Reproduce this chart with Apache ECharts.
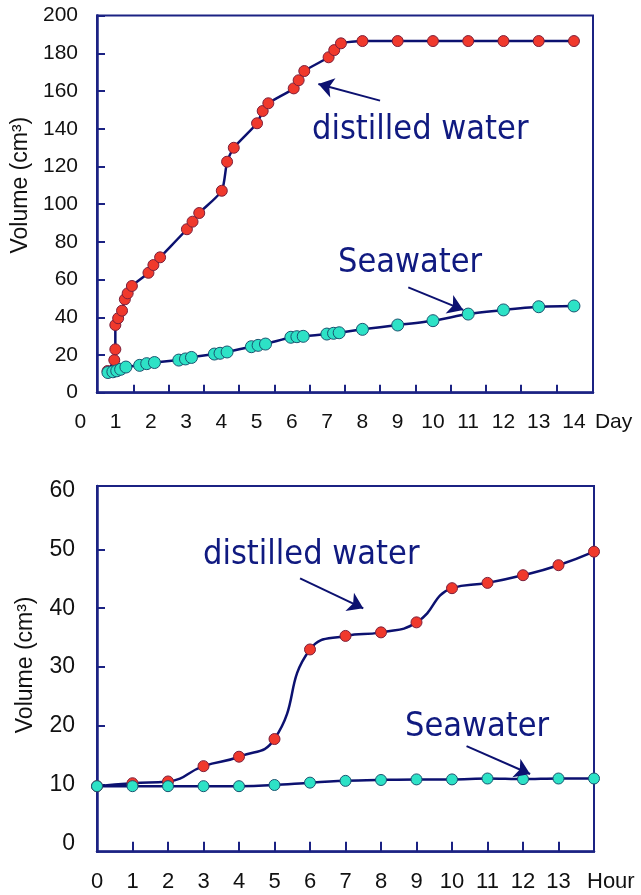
<!DOCTYPE html>
<html>
<head>
<meta charset="utf-8">
<script src="https://cdn.jsdelivr.net/npm/echarts@6.0.0/dist/echarts.min.js"></script>
<style>
html,body{margin:0;padding:0;background:#fff;}
#chart{width:641px;height:895px;}
</style>
</head>
<body>
<div id="chart"></div>
<script>
// ---- Data ----
// Top panel: volume vs day
const topDistilledDay = [0.77, 0.96, 0.99, 0.99, 1.07, 1.18, 1.26, 1.34, 1.46, 1.93, 2.07, 2.26, 3.02, 3.18, 3.37, 4.01, 4.16, 4.35, 5.01, 5.17, 5.33, 6.05, 6.19, 6.35, 7.04, 7.20, 7.39, 8, 9, 10, 11, 12, 13, 14];
const topDistilledVol = [11.5, 17.3, 23.0, 35.9, 39.5, 43.5, 49.5, 52.7, 56.6, 63.6, 67.7, 71.8, 86.7, 90.7, 95.3, 107.1, 122.5, 129.9, 142.9, 149.4, 153.5, 161.4, 165.7, 170.6, 177.9, 181.7, 185.3, 186.5, 186.5, 186.5, 186.5, 186.5, 186.5, 186.5];
const topSeaDay = [0.78, 0.92, 1.03, 1.14, 1.29, 1.68, 1.88, 2.10, 2.79, 2.98, 3.15, 3.80, 3.96, 4.16, 4.85, 5.04, 5.25, 5.97, 6.14, 6.32, 6.99, 7.18, 7.34, 8, 9, 10, 11, 12, 13, 14];
const topSeaVol = [10.7, 11.1, 11.6, 12.4, 13.6, 14.5, 15.4, 16.0, 17.3, 17.9, 18.7, 20.5, 20.9, 21.6, 24.4, 25.1, 25.8, 29.4, 29.7, 29.9, 31.1, 31.5, 31.8, 33.6, 35.9, 38.2, 41.7, 43.9, 45.6, 46.0];

// Bottom panel: volume vs hour
const hours = [0, 1, 2, 3, 4, 5, 6, 7, 8, 9, 10, 11, 12, 13, 14];
const bottomDistilledVol = [9.8, 10.3, 10.6, 13.2, 14.8, 17.8, 33.0, 35.3, 35.9, 37.6, 43.4, 44.3, 45.6, 47.3, 49.6];
const bottomSeaVol = [9.8, 9.8, 9.8, 9.8, 9.8, 10.0, 10.4, 10.7, 10.85, 10.95, 10.95, 11.1, 11.0, 11.1, 11.1];

// Tick labels
const dayLabels = [0, 1, 2, 3, 4, 5, 6, 7, 8, 9, 10, 11, 12, 13, 14];
const dayTicks = [1.5, 2.5, 3.5, 4.5, 5.5, 6.5, 7.5, 8.5, 9.5, 10.5, 11.5, 12.5, 13.5];
const hourLabels = [0, 1, 2, 3, 4, 5, 6, 7, 8, 9, 10, 11, 12, 13];
const hourTicks = [1, 2, 3, 4, 5, 6, 7, 8, 9, 10, 11, 12, 13];
const topYLabels = [0, 20, 40, 60, 80, 100, 120, 140, 160, 180, 200];
const bottomYLabels = [0, 10, 20, 30, 40, 50, 60];
const bottomYTicks = [10, 20, 30, 40, 50];

// Annotation arrows (data coordinates: [start, end])
const topDistilledArrow = [[8.5, 154.9], [6.75, 163.7]];
const topSeaArrow = [[9.30, 55.9], [10.86, 43.9]];
const bottomDistilledArrow = [[5.72, 45.07], [7.50, 39.98]];
const bottomSeaArrow = [[10.41, 16.6], [12.20, 11.86]];

// ---- Styles ----
const NAVY = '#1b2283';
const LINE = '#0c1170';
const TXT = '#101a80';
const RED = '#f0392c';
const RED_B = '#7d1f3a';
const CYAN = '#2de2c6';
const CYAN_B = '#1a5470';
const AX_FONT = 'Liberation Sans';
const ANN_FONT = '"DejaVu Sans Condensed", "DejaVu Sans", sans-serif';

function pairs(xs, ys) { return xs.map((x, i) => [x, ys[i]]); }
function arrow(a) {
  return [{ coord: a[0], symbol: 'none' }, { coord: a[1], symbol: 'arrow' }];
}
const markLineBase = {
  silent: true,
  symbol: ['none', 'arrow'],
  symbolSize: 15,
  label: { show: false },
  lineStyle: { color: LINE, width: 2, type: 'solid' },
  emphasis: { disabled: true },
  animation: false
};

const chart = echarts.init(document.getElementById('chart'), null, { renderer: 'canvas' });

const option = {
  animation: false,
  backgroundColor: '#ffffff',
  grid: [
    { left: 97, top: 15.6, width: 496, height: 377.1, show: true, borderColor: NAVY, borderWidth: 2, backgroundColor: 'transparent', containLabel: false, outerBoundsMode: 'none' },
    { left: 80.4, top: 15.6, width: 493.5, height: 377.1, show: false, containLabel: false, outerBoundsMode: 'none' },
    { left: 97, top: 486, width: 497, height: 365.7, show: true, borderColor: NAVY, borderWidth: 2, backgroundColor: 'transparent', containLabel: false, outerBoundsMode: 'none' }
  ],
  xAxis: [
    {
      gridIndex: 0, type: 'value', min: 0.47, max: 14.54,
      axisLine: { show: true, onZero: false, lineStyle: { color: NAVY, width: 2.5 } },
      axisTick: { show: true, inside: true, length: 8, customValues: dayTicks, lineStyle: { color: NAVY, width: 2 } },
      axisLabel: { show: false },
      splitLine: { show: false }
    },
    {
      gridIndex: 1, type: 'value', min: 0, max: 14, interval: 1,
      axisLine: { show: false },
      axisTick: { show: false },
      axisLabel: { show: true, margin: 19, fontSize: 21, fontFamily: AX_FONT, color: '#111',
        customValues: dayLabels, showMinLabel: true, showMaxLabel: true },
      splitLine: { show: false },
      name: 'Day', nameLocation: 'end', nameGap: 21,
      nameTextStyle: { fontSize: 21, fontFamily: AX_FONT, color: '#111', align: 'left', verticalAlign: 'top', lineHeight: 60 }
    },
    {
      gridIndex: 2, type: 'value', min: 0, max: 14,
      axisLine: { show: true, onZero: false, lineStyle: { color: NAVY, width: 2.5 } },
      axisTick: { show: true, inside: true, length: 10, customValues: hourTicks, lineStyle: { color: NAVY, width: 2 } },
      axisLabel: { show: true, margin: 19, fontSize: 22, fontFamily: AX_FONT, color: '#111',
        customValues: hourLabels, showMinLabel: true, showMaxLabel: true },
      splitLine: { show: false },
      name: 'Hour', nameLocation: 'end', nameGap: -7,
      nameTextStyle: { fontSize: 22, fontFamily: AX_FONT, color: '#111', align: 'left', verticalAlign: 'top', lineHeight: 60 }
    }
  ],
  yAxis: [
    {
      gridIndex: 0, type: 'value', min: 0, max: 200, interval: 20,
      axisLine: { show: true, onZero: false, lineStyle: { color: NAVY, width: 2.5 } },
      axisTick: { show: true, inside: true, length: 8, lineStyle: { color: NAVY, width: 2 } },
      axisLabel: { show: true, margin: 19, fontSize: 21, fontFamily: AX_FONT, color: '#111',
        customValues: topYLabels, showMinLabel: true, showMaxLabel: true },
      splitLine: { show: false },
      name: 'Volume (cm³)', nameLocation: 'middle', nameGap: 60,
      nameTextStyle: { fontSize: 23, fontFamily: AX_FONT, color: '#111', padding: [0, 0, 0, 38] }
    },
    { gridIndex: 1, type: 'value', min: 0, max: 1, show: false },
    {
      gridIndex: 2, type: 'value', min: -1.32, max: 60.74,
      axisLine: { show: true, onZero: false, lineStyle: { color: NAVY, width: 2.5 } },
      axisTick: { show: true, inside: true, length: 8, customValues: bottomYTicks, lineStyle: { color: NAVY, width: 2 } },
      axisLabel: { show: true, margin: 22, fontSize: 23, fontFamily: AX_FONT, color: '#111',
        customValues: bottomYLabels, showMinLabel: true, showMaxLabel: true },
      splitLine: { show: false },
      name: 'Volume (cm³)', nameLocation: 'middle', nameGap: 60,
      nameTextStyle: { fontSize: 23, fontFamily: AX_FONT, color: '#111', padding: [0, 0, 0, 8] }
    }
  ],
  series: [
    {
      name: 'distilled water (days)', type: 'line', xAxisIndex: 0, yAxisIndex: 0,
      data: pairs(topDistilledDay, topDistilledVol),
      smooth: 0.2, clip: false,
      symbol: 'circle', symbolSize: 11, showAllSymbol: true,
      lineStyle: { color: LINE, width: 2.5 },
      itemStyle: { color: RED, borderColor: RED_B, borderWidth: 1 },
      markLine: Object.assign({}, markLineBase, { data: [arrow(topDistilledArrow), arrow(topSeaArrow)] })
    },
    {
      name: 'Seawater (days)', type: 'line', xAxisIndex: 0, yAxisIndex: 0,
      data: pairs(topSeaDay, topSeaVol),
      smooth: 0.2, clip: false,
      symbol: 'circle', symbolSize: 12, showAllSymbol: true,
      lineStyle: { color: LINE, width: 2.5 },
      itemStyle: { color: CYAN, borderColor: CYAN_B, borderWidth: 1 }
    },
    {
      name: 'distilled water (hours)', type: 'line', xAxisIndex: 2, yAxisIndex: 2,
      data: pairs(hours, bottomDistilledVol),
      smooth: 0.5, clip: false,
      symbol: 'circle', symbolSize: 11, showAllSymbol: true,
      lineStyle: { color: LINE, width: 2.5 },
      itemStyle: { color: RED, borderColor: RED_B, borderWidth: 1 },
      markLine: Object.assign({}, markLineBase, { data: [arrow(bottomDistilledArrow), arrow(bottomSeaArrow)] })
    },
    {
      name: 'Seawater (hours)', type: 'line', xAxisIndex: 2, yAxisIndex: 2,
      data: pairs(hours, bottomSeaVol),
      smooth: 0.3, clip: false,
      symbol: 'circle', symbolSize: 11, showAllSymbol: true,
      lineStyle: { color: LINE, width: 2.5 },
      itemStyle: { color: CYAN, borderColor: CYAN_B, borderWidth: 1 }
    }
  ],
  graphic: [
    { type: 'text', x: 312, y: 130, silent: true,
      style: { text: 'distilled water', font: '34px ' + ANN_FONT, fill: TXT, align: 'left', verticalAlign: 'middle' } },
    { type: 'text', x: 338, y: 263, silent: true,
      style: { text: 'Seawater', font: '34px ' + ANN_FONT, fill: TXT, align: 'left', verticalAlign: 'middle' } },
    { type: 'text', x: 203, y: 555, silent: true,
      style: { text: 'distilled water', font: '34px ' + ANN_FONT, fill: TXT, align: 'left', verticalAlign: 'middle' } },
    { type: 'text', x: 405, y: 727, silent: true,
      style: { text: 'Seawater', font: '34px ' + ANN_FONT, fill: TXT, align: 'left', verticalAlign: 'middle' } }
  ]
};

chart.setOption(option);
</script>
</body>
</html>
